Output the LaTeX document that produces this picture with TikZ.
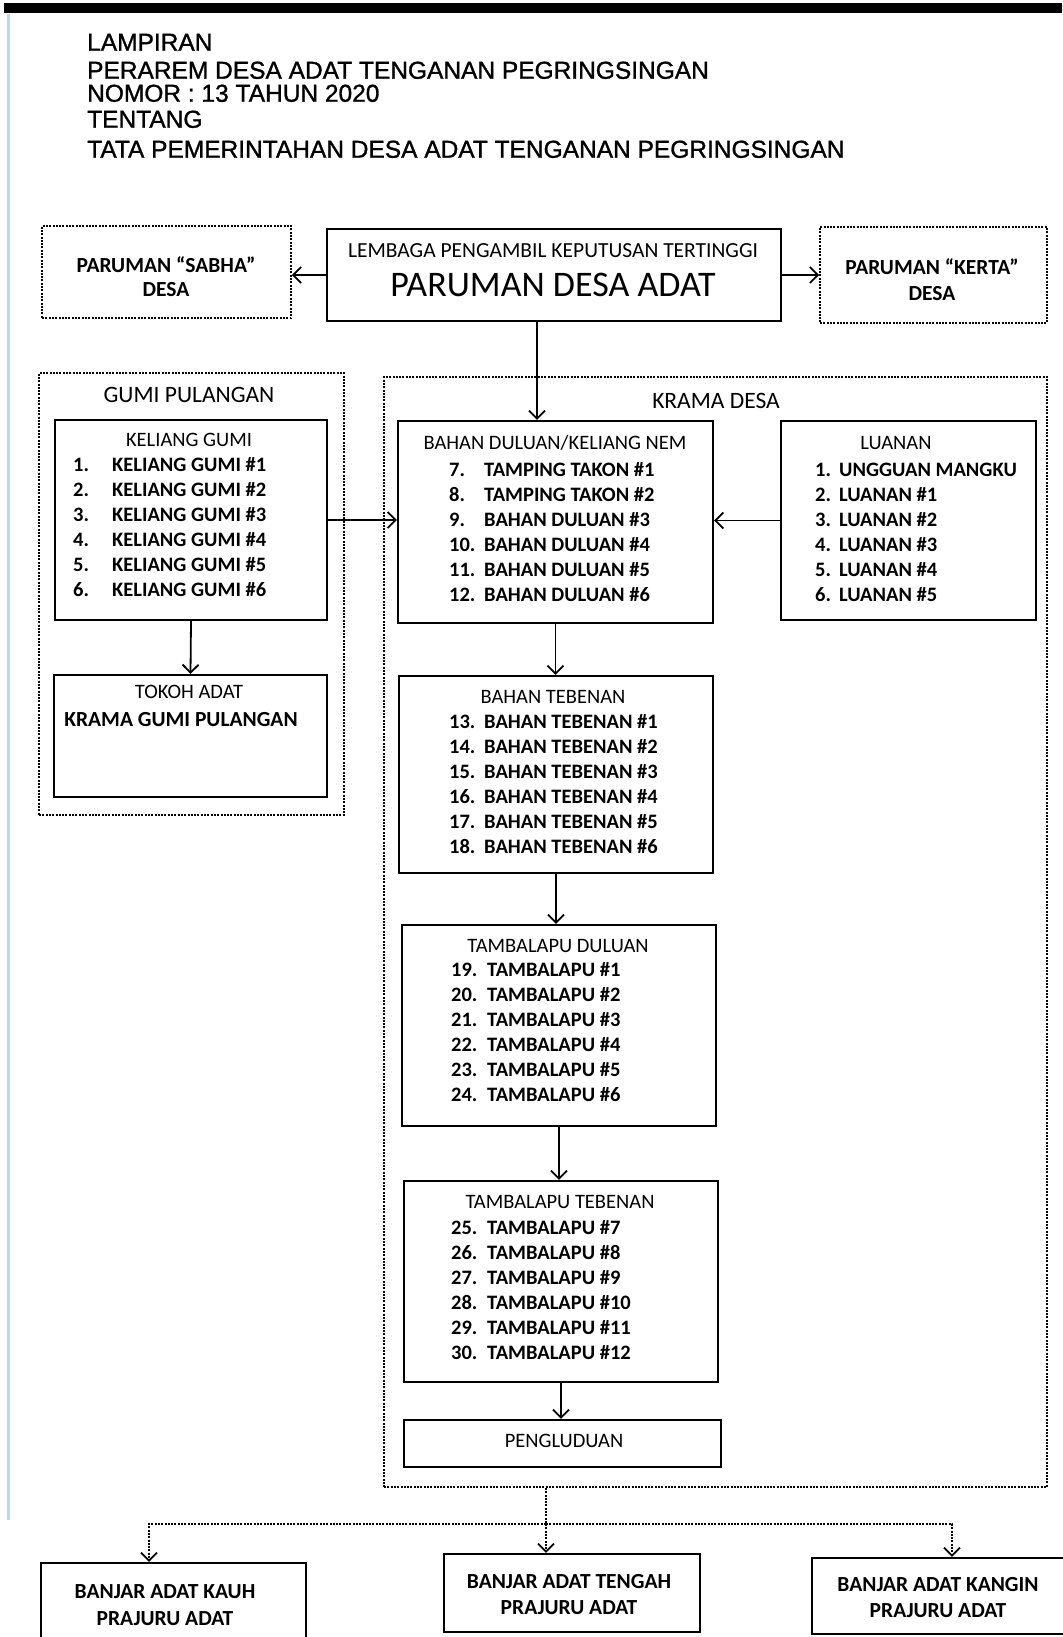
\documentclass[tikz,border=0pt]{standalone}
\usepackage{fontspec}
\setmainfont{Carlito}
\newfontfamily\headfont[FakeBold=1.2]{Liberation Sans}
\usetikzlibrary{arrows.meta}
\definecolor{scanblue}{RGB}{190,215,236}

\begin{document}
\begin{tikzpicture}[x=1pt, y=-1pt, >={Straight Barb[length=8pt,width=16pt]},
	box/.style={draw, line width=2.2pt, inner sep=0pt},
	group/.style={draw, line width=1.8pt, dash pattern=on 2pt off 1.3pt, inner sep=0pt},
	link/.style={->, line width=1.8pt},
	dlink/.style={line width=1.8pt, dash pattern=on 2pt off 1.3pt},
	head/.style={anchor=west, inner sep=0pt, text height=17.5pt, text depth=0pt, font=\headfont\fontsize{24.5}{28}\selectfont},
	txt/.style={inner sep=0pt, text height=13.2pt, text depth=0pt, font=\fontsize{20.5}{24}\selectfont},
	item/.style={txt, anchor=west, font=\fontsize{20.5}{24}\selectfont\bfseries},
	boxlabel/.style={inner sep=0pt, text height=13.8pt, text depth=0pt, font=\fontsize{21.5}{24}\selectfont\bfseries},
	gtitle/.style={inner sep=0pt, text height=15.2pt, text depth=0pt, font=\fontsize{23.5}{28}\selectfont}]

	\useasboundingbox (0,0) rectangle (1062,1637);

	% page edge
	\fill (4,3) rectangle (1062,13);
	\draw[line width=3pt, scanblue] (8,14) -- (8,1520);

	% heading
	\node[head] (h1) at (87,42) {LAMPIRAN};
	\node[head] (h2) at (87,70) {PERAREM DESA ADAT TENGANAN PEGRINGSINGAN};
	\node[head] (h3) at (87,93) {NOMOR : 13 TAHUN 2020};
	\node[head] (h4) at (87,119) {TENTANG};
	\node[head] (h5) at (87,149) {TATA PEMERINTAHAN DESA ADAT TENGANAN PEGRINGSINGAN};

	% top row
	\node[group, minimum width=249, minimum height=92] (sabha) at (166.5,272) {};
	\node[boxlabel] at (166,266) {PARUMAN “SABHA”};
	\node[boxlabel] at (166,290) {DESA};

	\node[box, minimum width=454, minimum height=92] (paruman) at (554,275) {};
	\node[txt, font=\fontsize{21.5}{24}\selectfont, text height=13.8pt] at (553,251) {LEMBAGA PENGAMBIL KEPUTUSAN TERTINGGI};
	\node[txt, font=\fontsize{36}{40}\selectfont, text height=23pt] at (553,285) {PARUMAN DESA ADAT};

	\node[group, minimum width=227, minimum height=96] (kerta) at (933.5,275) {};
	\node[boxlabel] at (932,268) {PARUMAN “KERTA”};
	\node[boxlabel] at (932,294) {DESA};

	\draw[link] (paruman.west) -- (paruman.west -| sabha.east);
	\draw[link] (paruman.east) -- (paruman.east -| kerta.west);

	% groups
	\node[group, minimum width=305, minimum height=442] (gumi) at (191.5,594) {};
	\node[gtitle] at (189,395) {GUMI PULANGAN};
	\node[group, minimum width=663, minimum height=1110] (krama) at (715.5,932) {};
	\node[gtitle] at (716,401) {KRAMA DESA};

	% gumi pulangan
	\node[box, minimum width=272, minimum height=200] (keliang) at (191,520) {};
	\node[txt] at (189,440) {KELIANG GUMI};
	\foreach \s in {1,...,6}
	{
		\node[item] at (73,440+25*\s) {\s.};
		\node[item] at (112,440+25*\s) {KELIANG GUMI \#\s};
	}

	\node[box, minimum width=273, minimum height=122] (tokoh) at (190.5,736) {};
	\node[txt] at (189,692) {TOKOH ADAT};
	\node[boxlabel] at (181,720) {KRAMA GUMI PULANGAN};

	\draw[link] (keliang.south) -- (tokoh.north);

	% krama desa
	\node[box, minimum width=315, minimum height=202] (bduluan) at (555.5,522) {};
	\node[txt] at (555,443) {BAHAN DULUAN/KELIANG NEM};
	\foreach \n/\t [count=\s] in {7/TAMPING TAKON \#1, 8/TAMPING TAKON \#2, 9/BAHAN DULUAN \#3,
		10/BAHAN DULUAN \#4, 11/BAHAN DULUAN \#5, 12/BAHAN DULUAN \#6}
	{
		\node[item] at (449,445+25*\s) {\n.};
		\node[item] at (484,445+25*\s) {\t};
	}

	\node[box, minimum width=255, minimum height=199] (luanan) at (908.5,520.5) {};
	\node[txt] at (896,443) {LUANAN};
	\foreach \t [count=\s] in {UNGGUAN MANGKU, LUANAN \#1, LUANAN \#2, LUANAN \#3, LUANAN \#4, LUANAN \#5}
	{
		\node[item] at (815,445+25*\s) {\s.};
		\node[item] at (839,445+25*\s) {\t};
	}

	\node[box, minimum width=314, minimum height=197] (btebenan) at (556,774.5) {};
	\node[txt] at (553,697) {BAHAN TEBENAN};
	\foreach \s [evaluate=\s as \n using int(\s+12)] in {1,...,6}
	{
		\node[item] at (449,697+25*\s) {\n.};
		\node[item] at (484,697+25*\s) {BAHAN TEBENAN \#\s};
	}

	\node[box, minimum width=314, minimum height=201] (tduluan) at (559,1025.5) {};
	\node[txt] at (558,946) {TAMBALAPU DULUAN};
	\foreach \s [evaluate=\s as \n using int(\s+18)] in {1,...,6}
	{
		\node[item] at (451,945+25*\s) {\n.};
		\node[item] at (487,945+25*\s) {TAMBALAPU \#\s};
	}

	\node[box, minimum width=314, minimum height=201] (ttebenan) at (561,1281.5) {};
	\node[txt] at (560,1202) {TAMBALAPU TEBENAN};
	\foreach \s [evaluate=\s as \n using int(\s+24), evaluate=\s as \m using int(\s+6)] in {1,...,6}
	{
		\node[item] at (451,1203+25*\s) {\n.};
		\node[item] at (487,1203+25*\s) {TAMBALAPU \#\m};
	}

	\node[box, minimum width=317, minimum height=47] (pengluduan) at (562.5,1443.5) {};
	\node[txt] at (564,1441) {PENGLUDUAN};

	% draw edges
	\coordinate (top) at ([xshift=-17pt]paruman.south);
	\draw[link] (top) -- (top |- bduluan.north);
	\draw[link] (keliang.east) -- (keliang.east -| bduluan.west);
	\draw[link] (luanan.west) -- (luanan.west -| bduluan.east);
	\draw[link] (bduluan.south) -- (bduluan.south |- btebenan.north);
	\draw[link] (btebenan.south) -- (btebenan.south |- tduluan.north);
	\draw[link] (tduluan.south) -- (tduluan.south |- ttebenan.north);
	\draw[link] (ttebenan.south) -- (ttebenan.south |- pengluduan.north);

	% banjar adat
	\node[box, minimum width=265, minimum height=78] (kauh) at (173.5,1602) {};
	\node[boxlabel] at (165,1592) {BANJAR ADAT KAUH};
	\node[boxlabel] at (165,1619) {PRAJURU ADAT};

	\node[box, minimum width=256, minimum height=78] (tengah) at (572,1593) {};
	\node[boxlabel] at (569,1582) {BANJAR ADAT TENGAH};
	\node[boxlabel] at (569,1608) {PRAJURU ADAT};

	\node[box, minimum width=258, minimum height=76] (kangin) at (941,1596) {};
	\node[boxlabel] at (938,1585) {BANJAR ADAT KANGIN};
	\node[boxlabel] at (938,1611) {PRAJURU ADAT};

	\coordinate (split) at (546,1524);
	\draw[dlink] (split |- krama.south) -- (split);
	\draw[dlink,->] (split) -| ([xshift=-24.5pt]kauh.north);
	\draw[dlink,->] (split) -- (split |- tengah.north);
	\draw[dlink,->] (split) -| ([xshift=11pt]kangin.north);

\end{tikzpicture}
\end{document}
